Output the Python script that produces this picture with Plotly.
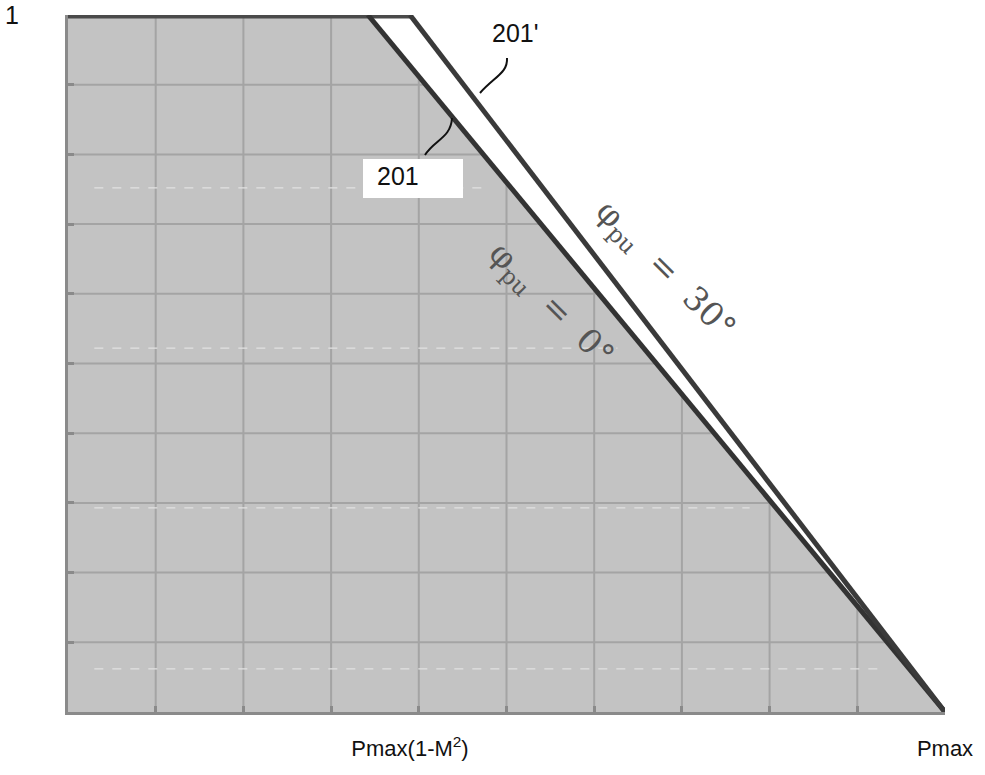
import plotly.graph_objects as go

# ---- data (axis units: 0..10 on both axes) ----
x_top_201 = 3.42          # where curve 201 (phi=0) leaves the top limit
x_top_201p = 3.9          # where curve 201' (phi=30) leaves the top limit = Pmax(1-M^2)
x_end = 10.0              # Pmax
y_top = 10.0

curve201_x = [0.0, x_top_201, x_end]
curve201_y = [y_top, y_top, 0.0]
curve201p_x = [x_top_201p, x_end]
curve201p_y = [y_top, 0.0]
top_limit_x = [0.0, x_top_201p]
top_limit_y = [y_top, y_top]

grid_vals = [1, 2, 3, 4, 5, 6, 7, 8, 9]
scan_lines_y = [7.52, 5.22, 2.93, 0.62]

tick_vals = [x_top_201p, x_end]
tick_text = ["Pmax(1-M<sup>2</sup>)", "Pmax"]

label_30 = "φ<sub>pu</sub>  =  30°"
label_0 = "φ<sub>pu</sub>  =  0°"

# ---- helpers ----
PX0, PX1, PY0, PY1 = 68, 945, 712, 15
def dx(px):
    return (px - PX0) / (PX1 - PX0) * 10
def dy(py):
    return (PY0 - py) / (PY0 - PY1) * 10

def xb(y):  # x of curve 201 at height y
    return x_end - (x_end - x_top_201) * y / y_top
def yb(x):
    return min(y_top, y_top * (x_end - x) / (x_end - x_top_201))

fig = go.Figure()

# shaded operating region
fig.add_trace(go.Scatter(
    x=curve201_x + [0.0, 0.0], y=curve201_y + [0.0, y_top],
    fill="toself", fillcolor="#c3c3c3", mode="none", hoverinfo="skip"))

# grid inside the shaded region
gx, gy = [], []
for k in grid_vals:
    gx += [k, k, None]; gy += [0, yb(k), None]
    gx += [0, xb(k), None]; gy += [k, k, None]
fig.add_trace(go.Scatter(x=gx, y=gy, mode="lines",
                         line=dict(color="#a4a4a4", width=2), hoverinfo="skip"))

sx, sy = [], []
for v in scan_lines_y:
    sx += [0.3, xb(v) - 0.3, None]; sy += [v, v, None]
fig.add_trace(go.Scatter(x=sx, y=sy, mode="lines",
                         line=dict(color="#e2e2e2", width=1.2, dash="dash"), hoverinfo="skip"))

# curves
fig.add_trace(go.Scatter(x=top_limit_x, y=top_limit_y, mode="lines",
                         line=dict(color="#4a4a4a", width=7), cliponaxis=False, hoverinfo="skip"))
fig.add_trace(go.Scatter(x=curve201_x[1:], y=curve201_y[1:], mode="lines",
                         line=dict(color="#333333", width=5), cliponaxis=False, hoverinfo="skip"))
fig.add_trace(go.Scatter(x=curve201p_x, y=curve201p_y, mode="lines",
                         line=dict(color="#3a3a3a", width=5), cliponaxis=False, hoverinfo="skip"))

label_font = dict(family="Liberation Sans, Arial", size=25, color="#111111")
tick_font = dict(family="Liberation Sans, Arial", size=22, color="#111111")
serif_font = dict(family="DejaVu Serif, Liberation Serif, serif", size=33, color="#555555")

annotations = [
    dict(xref="paper", yref="paper", x=(12 - PX0) / (PX1 - PX0), y=1.0, text="1",
         xanchor="center", yanchor="middle", showarrow=False, font=label_font),
    dict(x=dx(490), y=dy(33), text="201'", showarrow=False, xanchor="left", font=label_font),
    dict(x=dx(375), y=dy(176), text="201", showarrow=False, xanchor="left", font=label_font),
    dict(x=dx(665), y=dy(270), text=label_30, showarrow=False, textangle=45, font=serif_font),
    dict(x=dx(551), y=dy(305), text=label_0, showarrow=False, textangle=45, font=serif_font),
]

def path(pts):
    (x0, y0), (x1, y1), (x2, y2), (x3, y3) = [(dx(a), dy(b)) for a, b in pts]
    return f"M {x0},{y0} C {x1},{y1} {x2},{y2} {x3},{y3}"

shapes = [
    dict(type="rect", xref="x", yref="y", x0=dx(363), x1=dx(463), y0=dy(198), y1=dy(159),
         fillcolor="white", line=dict(width=0), layer="above"),
    dict(type="path", xref="x", yref="y", path=path([(480, 93), (494, 77), (508, 73), (507, 58)]),
         line=dict(color="#111111", width=2)),
    dict(type="path", xref="x", yref="y", path=path([(425, 155), (434, 140), (451, 138), (452, 118)]),
         line=dict(color="#111111", width=2)),
]

fig.update_layout(
    width=985, height=775,
    margin=dict(l=68, r=40, t=15, b=63, autoexpand=False),
    paper_bgcolor="white", plot_bgcolor="white",
    showlegend=False,
    annotations=annotations, shapes=shapes,
    xaxis=dict(range=[0, 10], showgrid=False, zeroline=False, automargin=False,
               showline=True, linecolor="#8a8a8a", linewidth=3,
               tickmode="array", tickvals=tick_vals, ticktext=tick_text, ticks="",
               ticklabelstandoff=15, tickfont=tick_font,
               minor=dict(tickmode="array", tickvals=grid_vals, ticks="inside",
                          ticklen=6, tickwidth=3, tickcolor="#8a8a8a", showgrid=False)),
    yaxis=dict(range=[0, 10], showgrid=False, zeroline=False, automargin=False,
               showline=True, linecolor="#8a8a8a", linewidth=3,
               showticklabels=False, ticks="",
               minor=dict(tickmode="array", tickvals=grid_vals, ticks="inside",
                          ticklen=6, tickwidth=3, tickcolor="#8a8a8a", showgrid=False)),
)

fig.write_html("out.html", config={"displayModeBar": False},
               post_script="document.body.style.margin='0';")
